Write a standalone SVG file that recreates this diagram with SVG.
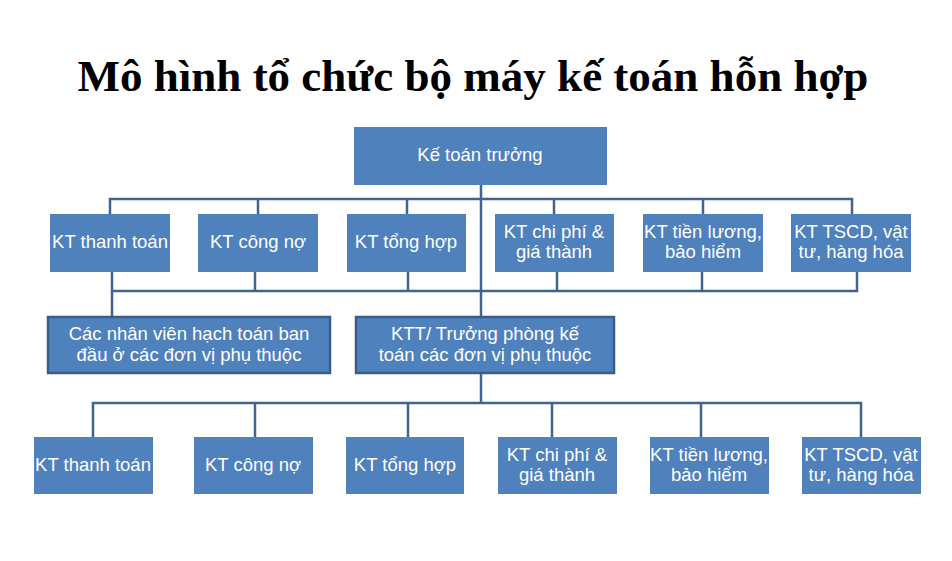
<svg xmlns="http://www.w3.org/2000/svg" width="952" height="561" viewBox="0 0 952 561">
<style>
.box{fill:#4F81BD;}
.box2{fill:#4F81BD;stroke:#385D8A;stroke-width:2.5;}
.t{font-family:"Liberation Sans",Arial,sans-serif;font-size:18.5px;fill:#FFFFFF;text-anchor:middle;}
.ln{fill:none;stroke:#41648F;stroke-width:2.5;}
.title{font-family:"Liberation Serif","Times New Roman",serif;font-size:45px;font-weight:bold;fill:#000;text-anchor:middle;}
</style>
<rect width="952" height="561" fill="#FFFFFF"/>
<text class="title" x="473" y="91">Mô hình tổ chức bộ máy kế toán hỗn hợp</text>
<g id="connectors">
<path class="ln" d="M481,185 V317"/>
<path class="ln" d="M110,214 V199 H852 V214 M258,199 V214 M407,199 V214 M554,199 V214 M703,199 V214"/>
<path class="ln" d="M112,272 V291 H857 V272 M255,272 V291 M408,272 V291 M557,272 V291 M702,272 V291"/>
<path class="ln" d="M112,291 V317"/>
<path class="ln" d="M481,373 V403"/>
<path class="ln" d="M93,437 V403 H861 V437 M255,403 V437 M408,403 V437 M552,403 V437 M701,403 V437"/>
</g>
<g id="ke-toan-truong"><rect class="box" x="354" y="127" width="253" height="58"/><text class="t" x="480" y="161">Kế toán trưởng</text></g>
<g id="r1-thanh-toan"><rect class="box" x="50" y="214" width="120" height="58"/><text class="t" x="110" y="248">KT thanh  toán</text></g>
<g id="r1-cong-no"><rect class="box" x="198" y="214" width="120" height="58"/><text class="t" x="258" y="248">KT công nợ</text></g>
<g id="r1-tong-hop"><rect class="box" x="347" y="214" width="119" height="58"/><text class="t" x="406" y="248">KT tổng hợp</text></g>
<g id="r1-chi-phi"><rect class="box" x="495" y="214" width="119" height="58"/><text class="t" x="554" y="238">KT chi phí &amp;</text><text class="t" x="554" y="258">giá thành</text></g>
<g id="r1-tien-luong"><rect class="box" x="643" y="214" width="120" height="58"/><text class="t" x="703" y="238">KT tiền lương,</text><text class="t" x="703" y="258">bảo hiểm</text></g>
<g id="r1-tscd"><rect class="box" x="791" y="214" width="120" height="58"/><text class="t" x="851" y="238">KT TSCD, vật</text><text class="t" x="851" y="258">tư, hàng hóa</text></g>
<g id="nhan-vien"><rect class="box2" x="48" y="317" width="282" height="56"/><text class="t" x="189" y="340">Các nhân  viên hạch toán ban</text><text class="t" x="189" y="361">đầu ở các đơn vị phụ thuộc</text></g>
<g id="ktt"><rect class="box2" x="356" y="317" width="258" height="56"/><text class="t" x="485" y="340">KTT/ Trưởng phòng kế</text><text class="t" x="485" y="361">toán các đơn vị phụ thuộc</text></g>
<g id="r2-thanh-toan"><rect class="box" x="34" y="437" width="119" height="57"/><text class="t" x="93" y="471">KT thanh toán</text></g>
<g id="r2-cong-no"><rect class="box" x="194" y="437" width="119" height="57"/><text class="t" x="253" y="471">KT công nợ</text></g>
<g id="r2-tong-hop"><rect class="box" x="346" y="437" width="118" height="57"/><text class="t" x="405" y="471">KT tổng hợp</text></g>
<g id="r2-chi-phi"><rect class="box" x="498" y="437" width="119" height="57"/><text class="t" x="557" y="461">KT chi phí &amp;</text><text class="t" x="557" y="481">giá thành</text></g>
<g id="r2-tien-luong"><rect class="box" x="650" y="437" width="119" height="57"/><text class="t" x="709" y="461">KT tiền lương,</text><text class="t" x="709" y="481">bảo hiểm</text></g>
<g id="r2-tscd"><rect class="box" x="802" y="437" width="119" height="57"/><text class="t" x="861" y="461">KT TSCD, vật</text><text class="t" x="861" y="481">tư, hàng hóa</text></g>
</svg>
